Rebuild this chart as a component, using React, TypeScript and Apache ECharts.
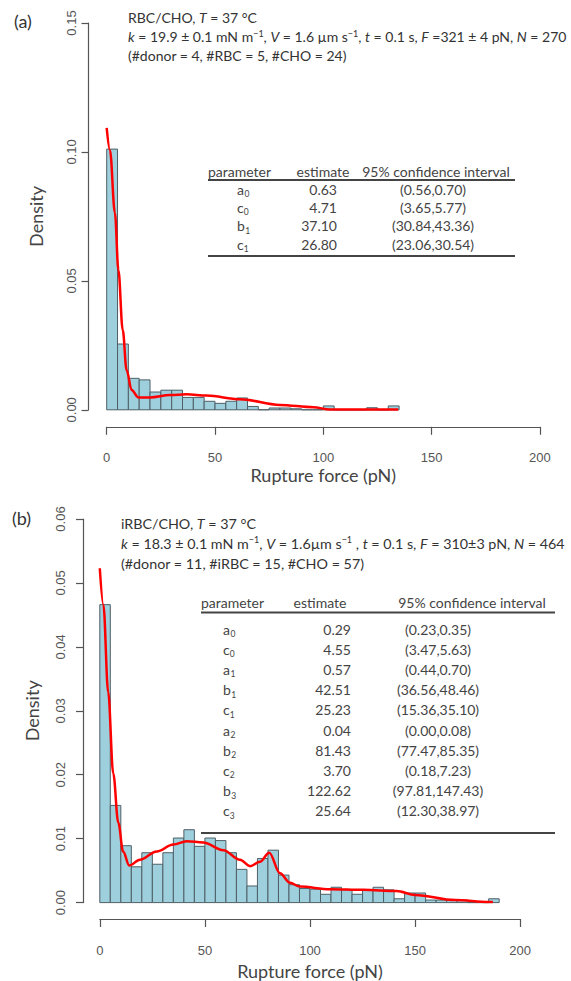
import React, { useEffect, useRef } from "react";
import * as echarts from "echarts";

// ---------- data ----------
const BIN_WIDTH = 5;

// Panel (a): RBC/CHO histogram densities (bins of 5 pN starting at 0)
const densityA = [
  0.1011, 0.0255, 0.0122, 0.0116, 0.0069, 0.0076, 0.0076, 0.0048, 0.0048, 0.0033,
  0.0025, 0.0033, 0.0046, 0.0013, 0, 0.0007, 0.0007, 0.0004, 0, 0,
  0.0015, 0, 0, 0, 0.0008, 0, 0.0015,
];
const curveAx = [0, 1.5, 3.8, 5.4, 7.4, 9.2, 11.5, 14.6, 20, 29.2, 36.9, 46.2, 61.5, 80, 95.4, 103, 134.6];
const curveAy = [0.1093, 0.1007, 0.0763, 0.0542, 0.0309, 0.0154, 0.0077, 0.0048, 0.0048, 0.0057, 0.006, 0.0055, 0.0041, 0.0019, 0.001, 0.0001, 0.0001];

// Panel (b): iRBC/CHO histogram densities
const densityB = [
  0.0466, 0.0152, 0.0089, 0.0056, 0.0078, 0.006, 0.0078, 0.0101, 0.0114, 0.0088,
  0.0101, 0.0097, 0.0078, 0.0052, 0.0026, 0.0069, 0.0082, 0.0043, 0.0028, 0.0022,
  0.0021, 0.0013, 0.0024, 0.002, 0.0013, 0.0019, 0.0024, 0.002, 0.0006, 0.0015,
  0.0015, 0.0004, 0.0004, 0.0004, 0.0004, 0, 0, 0.0006,
];
const curveBx = [0, 1.7, 4.0, 6.4, 8.8, 11.1, 14.0, 19.1, 27.1, 35, 41.3, 49.2, 58.8, 66.7, 71.5, 76.2, 80.6, 85.7, 90.5, 95.2, 109.5, 125.4, 141.2, 150, 169, 185, 187];
const curveBy = [0.0523, 0.0466, 0.0329, 0.0202, 0.0125, 0.008, 0.0058, 0.0067, 0.008, 0.0091, 0.0096, 0.0094, 0.0082, 0.0067, 0.0057, 0.0064, 0.0078, 0.0046, 0.0031, 0.0025, 0.0021, 0.002, 0.0018, 0.0012, 0.0004, 0.0001, 0.0001];

// Tables
const tableA_param = [["a", "0"], ["c", "0"], ["b", "1"], ["c", "1"]];
const tableA_est = ["0.63", "4.71", "37.10", "26.80"];
const tableA_ci = ["(0.56,0.70)", "(3.65,5.77)", "(30.84,43.36)", "(23.06,30.54)"];

const tableB_param = [["a", "0"], ["c", "0"], ["a", "1"], ["b", "1"], ["c", "1"], ["a", "2"], ["b", "2"], ["c", "2"], ["b", "3"], ["c", "3"]];
const tableB_est = ["0.29", "4.55", "0.57", "42.51", "25.23", "0.04", "81.43", "3.70", "122.62", "25.64"];
const tableB_ci = ["(0.23,0.35)", "(3.47,5.63)", "(0.44,0.70)", "(36.56,48.46)", "(15.36,35.10)", "(0.00,0.08)", "(77.47,85.35)", "(0.18,7.23)", "(97.81,147.43)", "(12.30,38.97)"];

const headerA = [
  "RBC/CHO, {i|T} = 37 °C",
  "{i|k} = 19.9 ± 0.1 mN m{sup|−1}, {i|V} = 1.6 µm s{sup|−1}, {i|t} = 0.1 s, {i|F} =321 ± 4 pN, {i|N} = 270",
  "(#donor = 4, #RBC = 5, #CHO = 24)",
];
const headerB = [
  "iRBC/CHO, {i|T} = 37 °C",
  "{i|k} = 18.3 ± 0.1 mN m{sup|−1}, {i|V} = 1.6µm s{sup|−1} , {i|t} = 0.1 s, {i|F} = 310±3 pN, {i|N} = 464",
  "(#donor = 11, #iRBC = 15, #CHO = 57)",
];

// ---------- styles ----------
const CAL = "Lato, 'Open Sans', sans-serif";
const ARIAL = "'Liberation Sans', Arial, sans-serif";
const AXIS_COLOR = "#555";
const TEXT_COLOR = "#333";
const BAR_FILL = "#9dcfdd";
const BAR_STROKE = "#4f5f66";
const LETTER_W: Record<string, number> = { a: 7.0, b: 7.8, c: 6.3 };

function histSeries(dens: number[], idx: number) {
  return {
    type: "custom",
    xAxisIndex: idx,
    yAxisIndex: idx,
    silent: true,
    z: 2,
    data: dens.map((d, i) => [i * BIN_WIDTH, (i + 1) * BIN_WIDTH, d]),
    encode: { x: [0, 1], y: 2 },
    renderItem: (_p: any, api: any) => {
      const p0 = api.coord([api.value(0), api.value(2)]);
      const p1 = api.coord([api.value(1), 0]);
      return {
        type: "rect",
        shape: { x: p0[0], y: p0[1], width: p1[0] - p0[0], height: p1[1] - p0[1] },
        style: { fill: BAR_FILL, stroke: BAR_STROKE, lineWidth: 1 },
      };
    },
  };
}

function curveSeries(xs: number[], ys: number[], idx: number) {
  return {
    type: "line",
    xAxisIndex: idx,
    yAxisIndex: idx,
    z: 5,
    silent: true,
    showSymbol: false,
    symbol: "none",
    smooth: 0.35,
    smoothMonotone: "x",
    lineStyle: { color: "#ff0000", width: 2.5 },
    data: xs.map((x, i) => [x, ys[i]]),
  };
}

function xAxisDef(idx: number, offset: number, margin: number, nameGap: number) {
  return {
    type: "value",
    gridIndex: idx,
    min: 0,
    max: 200,
    interval: 50,
    offset,
    axisLine: { show: true, onZero: false, lineStyle: { color: AXIS_COLOR, width: 1.2 } },
    axisTick: { show: true, length: 8, lineStyle: { color: AXIS_COLOR, width: 1.2 } },
    axisLabel: { color: AXIS_COLOR, fontSize: 13, fontFamily: ARIAL, margin },
    splitLine: { show: false },
    name: "Rupture force (pN)",
    nameLocation: "middle",
    nameGap,
    nameTextStyle: { fontSize: 18, color: "#444", fontFamily: CAL, lineHeight: 18 },
  };
}

function yAxisDef(idx: number, max: number, interval: number, offset: number, margin: number, nameGap: number) {
  return {
    type: "value",
    gridIndex: idx,
    min: 0,
    max,
    interval,
    offset,
    axisLine: { show: true, onZero: false, lineStyle: { color: AXIS_COLOR, width: 1.2 } },
    axisTick: { show: true, length: 7, lineStyle: { color: AXIS_COLOR, width: 1.2 } },
    axisLabel: {
      color: AXIS_COLOR,
      fontSize: 13,
      fontFamily: ARIAL,
      rotate: 90,
      margin,
      formatter: (v: number) => v.toFixed(2),
    },
    splitLine: { show: false },
    name: "Density",
    nameLocation: "middle",
    nameGap,
    nameTextStyle: { fontSize: 18, color: "#444", fontFamily: CAL },
  };
}

const richHdr = {
  i: { fontStyle: "italic", fontSize: 14, fontFamily: CAL, fill: TEXT_COLOR, lineHeight: 16 },
  sup: { fontSize: 9, fontFamily: CAL, fill: TEXT_COLOR, lineHeight: 10, verticalAlign: "top" },
};

function headerTexts(lines: string[], x: number, ys: number[], fontSize: number) {
  return lines.map((t, i) => ({
    type: "text",
    x,
    y: ys[i],
    silent: true,
    style: {
      text: t,
      fontSize,
      fontFamily: CAL,
      fill: TEXT_COLOR,
      verticalAlign: "middle",
      align: "left",
      lineHeight: 16,
      rich: {
        i: { ...richHdr.i, fontSize },
        sup: richHdr.sup,
      },
    },
  }));
}

function tableElements(
  params: string[][],
  est: string[],
  ci: string[],
  cfg: {
    left: number; right: number; headerY: number; rule1: number; row0: number; rowStep: number; rule2: number;
    paramX: number; estRight: number; estHeadX: number; ciX: number; ciHeadX: number;
  }
) {
  const els: any[] = [];
  const base = { fontSize: 14, fontFamily: CAL, fill: "#444", verticalAlign: "middle" };
  els.push({ type: "text", x: cfg.left, y: cfg.headerY, silent: true, style: { ...base, text: "parameter", align: "left" } });
  els.push({ type: "text", x: cfg.estHeadX, y: cfg.headerY, silent: true, style: { ...base, text: "estimate", align: "center" } });
  els.push({ type: "text", x: cfg.ciHeadX, y: cfg.headerY, silent: true, style: { ...base, text: "95% confidence interval", align: "center" } });
  els.push({ type: "line", silent: true, shape: { x1: cfg.left, y1: cfg.rule1, x2: cfg.right, y2: cfg.rule1 }, style: { stroke: "#444", lineWidth: 2 } });
  params.forEach((p, i) => {
    const y = cfg.row0 + i * cfg.rowStep;
    els.push({ type: "text", x: cfg.paramX, y, silent: true, style: { ...base, text: p[0], align: "left" } });
    els.push({
      type: "text", x: cfg.paramX + (LETTER_W[p[0]] || 7) + 0.5, y: y + 5, silent: true,
      style: { ...base, fontSize: 8.5, text: p[1], align: "left" },
    });
    els.push({ type: "text", x: cfg.estRight, y, silent: true, style: { ...base, text: est[i], align: "right" } });
    els.push({ type: "text", x: cfg.ciX, y, silent: true, style: { ...base, text: ci[i], align: "center" } });
  });
  els.push({ type: "line", silent: true, shape: { x1: cfg.left, y1: cfg.rule2, x2: cfg.right, y2: cfg.rule2 }, style: { stroke: "#444", lineWidth: 2 } });
  return els;
}

export default function App() {
  const ref = useRef<HTMLDivElement>(null);
  useEffect(() => {
    if (!ref.current) return;
    const chart = echarts.init(ref.current, null, { renderer: "svg" });
    const graphics: any[] = [
      { type: "text", x: 14, y: 21, silent: true, style: { text: "(a)", fontSize: 18, fontFamily: CAL, fill: TEXT_COLOR, verticalAlign: "middle" } },
      { type: "text", x: 12, y: 518, silent: true, style: { text: "(b)", fontSize: 18, fontFamily: CAL, fill: TEXT_COLOR, verticalAlign: "middle" } },
      ...headerTexts(headerA, 128, [17.5, 36.5, 55.5], 14),
      ...headerTexts(headerB, 121, [523, 543, 563], 14.3),
      ...tableElements(tableA_param, tableA_est, tableA_ci, {
        left: 208, right: 515, headerY: 171, rule1: 180, row0: 189, rowStep: 18.4, rule2: 256,
        paramX: 237, estRight: 337, estHeadX: 323, ciX: 433, ciHeadX: 436,
      }),
      ...tableElements(tableB_param, tableB_est, tableB_ci, {
        left: 201, right: 555, headerY: 602, rule1: 612.5, row0: 629, rowStep: 20.2, rule2: 833,
        paramX: 223, estRight: 351, estHeadX: 320, ciX: 438, ciHeadX: 472,
      }),
    ];
    chart.setOption({
      animation: false,
      backgroundColor: "#ffffff",
      grid: [
        { left: 106.7, top: 23, width: 433.2, height: 386.8, containLabel: false },
        { left: 99.8, top: 519, width: 420.4, height: 393.1, containLabel: false },
      ],
      xAxis: [xAxisDef(0, 17, 24, 39), xAxisDef(1, 16.4, 25, 43)],
      yAxis: [yAxisDef(0, 0.15, 0.05, 18.2, 11, 44), yAxisDef(1, 0.06, 0.01, 16.8, 16, 42)],
      series: [
        histSeries(densityA, 0),
        curveSeries(curveAx, curveAy, 0),
        histSeries(densityB, 1),
        curveSeries(curveBx, curveBy, 1),
      ],
      graphic: graphics,
    });
    return () => chart.dispose();
  }, []);
  return (
    <div
      ref={ref}
      style={{ position: "absolute", left: 0, top: 0, width: 571, height: 981, background: "#fff" }}
    />
  );
}
